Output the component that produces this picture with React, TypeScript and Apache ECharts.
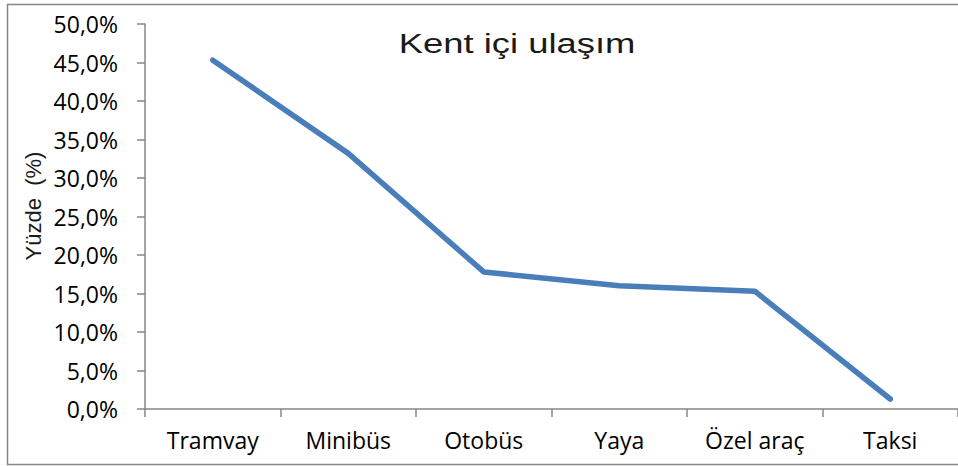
import React, { useEffect, useRef } from "react";
import * as echarts from "echarts";

const categories = ["Tramvay", "Minibüs", "Otobüs", "Yaya", "Özel araç", "Taksi"];
const values = [45.3, 33.2, 17.8, 16.0, 15.3, 1.3];
const titleText = "Kent içi ulaşım";
const yAxisName = "Yüzde  (%)";

export default function App() {
  const ref = useRef<HTMLDivElement>(null);
  useEffect(() => {
    if (!ref.current) return;
    const chart = echarts.init(ref.current, null, { renderer: "svg" });
    chart.setOption({
      animation: false,
      backgroundColor: "#ffffff",
      graphic: [
        {
          type: "rect",
          shape: { x: 7.5, y: 4.5, width: 1000, height: 460 },
          style: { fill: "none", stroke: "#868686", lineWidth: 1.5 },
          silent: true,
        },
        {
          type: "text",
          x: 517,
          y: 44,
          scaleX: 1.3,
          style: {
            text: titleText,
            font: "28px 'Liberation Sans', Arial, sans-serif",
            fill: "#1a1a1a",
            align: "center",
            verticalAlign: "middle",
          },
        },
        {
          type: "text",
          x: 33,
          y: 206,
          rotation: Math.PI / 2,
          style: {
            text: yAxisName,
            font: "22px 'Liberation Sans', Arial, sans-serif",
            fill: "#1a1a1a",
            align: "center",
            verticalAlign: "middle",
          },
        },
      ],
      grid: { left: 145, top: 24, width: 822, height: 385, containLabel: false },
      xAxis: {
        type: "category",
        data: categories,
        boundaryGap: true,
        axisLine: { lineStyle: { color: "#868686", width: 1.5 } },
        axisTick: { show: true, length: 8, inside: false, alignWithLabel: false, lineStyle: { color: "#868686", width: 1.5 } },
        axisLabel: { color: "#000", fontSize: 23, fontFamily: "'Open Sans', Lato, sans-serif", margin: 19 },
        splitLine: { show: false },
      },
      yAxis: {
        type: "value",
        min: 0,
        max: 50,
        interval: 5,
        axisLine: { show: true, lineStyle: { color: "#868686", width: 1.5 } },
        axisTick: { show: true, length: 8, lineStyle: { color: "#868686", width: 1.5 } },
        axisLabel: {
          color: "#000",
          fontSize: 23,
          fontFamily: "'Open Sans', Lato, sans-serif",
          margin: 27,
          formatter: (v: number) => v.toFixed(1).replace(".", ",") + "%",
        },
        splitLine: { show: false },
      },
      series: [
        {
          type: "line",
          data: values,
          showSymbol: false,
          symbol: "none",
          lineStyle: { color: "#4A7EBB", width: 5.5, cap: "round", join: "round" },
        },
      ],
    });
    return () => chart.dispose();
  }, []);
  return <div ref={ref} style={{ position: "absolute", left: 0, top: 0, width: 958, height: 466 }} />;
}
